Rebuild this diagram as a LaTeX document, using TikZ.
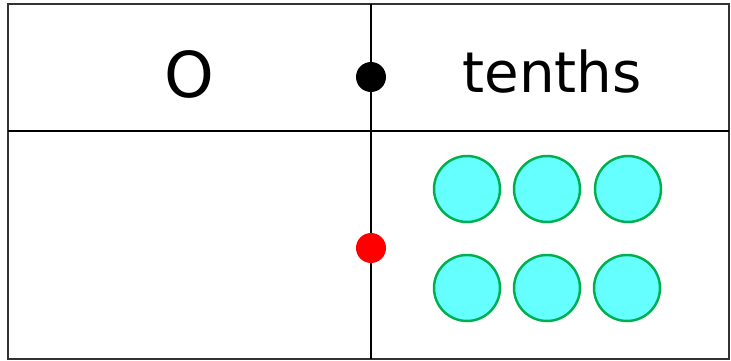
\documentclass[tikz,border=0pt]{standalone}
\usepackage{fontspec}
\setmainfont{DejaVu Sans}
\definecolor{counterfill}{RGB}{102, 255, 255}
\definecolor{countergreen}{RGB}{0, 176, 80}
\definecolor{framegray}{RGB}{50, 50, 50}
\tikzset{
	counter/.style={circle, draw=countergreen, fill=counterfill, line width=1.4pt, minimum size=1.32cm, inner sep=0pt},
	pointdot/.style={circle, minimum size=0.6cm, inner sep=0pt},
	heading/.style={font=\fontsize{36}{40}\selectfont, inner sep=0pt}
}

\begin{document}
\begin{tikzpicture}[x=0.02cm, y=-0.02cm]
			\useasboundingbox (0, 0) rectangle (731, 361);
			
			% TABLE FRAME
			\draw[framegray, line width=1.2pt] (8, 4) rectangle (729, 359);
			\draw[black, line width=0.9pt] (8, 131) -- (729, 131);
			\coordinate (top) at (371, 4);
			\coordinate (bottom) at (371, 359);
			\draw[black, line width=0.9pt] (top) -- (bottom);
			
			% HEADINGS
			\node[heading] (ones) at (189, 74) {O};
			\node[heading, font=\fontsize{32}{36}\selectfont] (tenths) at (552, 72) {tenths};
			
			% DECIMAL POINTS
			\node[pointdot, fill=black] (headpoint) at (371, 77) {};
			\node[pointdot, fill=red] (rowpoint) at (371, 248) {};
			
			% COUNTERS
			\node[counter] (c1) at (467, 189) {};
			\node[counter] (c2) at (547, 189) {};
			\node[counter] (c3) at (628, 189) {};
			\node[counter] (c4) at (467, 288) {};
			\node[counter] (c5) at (547, 288) {};
			\node[counter] (c6) at (627, 288) {};
			
		\end{tikzpicture}
\end{document}
